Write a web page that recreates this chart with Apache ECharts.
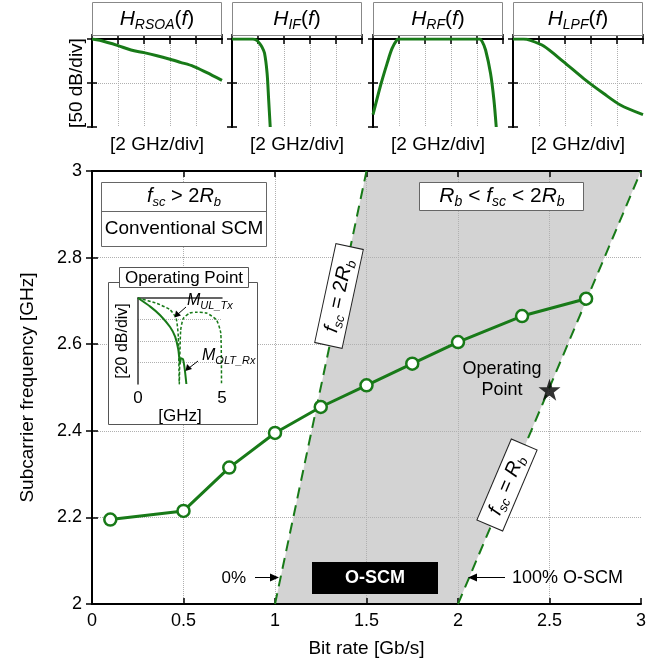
<!DOCTYPE html>
<html><head><meta charset="utf-8">
<script src="https://cdn.jsdelivr.net/npm/echarts@6/dist/echarts.min.js"></script>
<style>html,body{margin:0;padding:0;background:#fff}#c{width:671px;height:667px}</style>
</head><body><div id="c"></div>
<script>
// ---------- data ----------
const xTickLabels = ['0', '0.5', '1', '1.5', '2', '2.5', '3'];
const yTickLabels = ['2', '2.2', '2.4', '2.6', '2.8', '3'];
const bitRate = [0.1, 0.5, 0.75, 1.0, 1.25, 1.5, 1.75, 2.0, 2.35, 2.7];
const subcarrierFreq = [2.195, 2.215, 2.315, 2.395, 2.455, 2.505, 2.555, 2.605, 2.665, 2.705];
const line2Rb = [[1, 2], [1.5, 3]];   // fsc = 2Rb
const lineRb = [[2, 2], [3, 3]];      // fsc = Rb
const operatingPoint = [[2.5, 2.495]];

const panelTitles = [
  '{i|H}{s|RSOA}{n|(}{i|f}{n|)}',
  '{i|H}{s|IF}{n|(}{i|f}{n|)}',
  '{i|H}{s|RF}{n|(}{i|f}{n|)}',
  '{i|H}{s|LPF}{n|(}{i|f}{n|)}'
];
// [division (2 GHz/div), dB]
const hRsoa = [[0, 0], [0.3, -1.5], [1, -7.5], [1.5, -12.5], [2, -15.5], [2.5, -19], [3, -23], [3.4, -26.5], [3.9, -31], [4.4, -38], [5, -47]];
const hIf = [[0, 0], [0.8, 0], [0.95, -1.5], [1.06, -5], [1.15, -9], [1.25, -16], [1.35, -39], [1.41, -69], [1.47, -100]];
const hRf = [[0, -86], [0.28, -54], [0.54, -28], [0.73, -11], [0.92, -1], [1.0, 0], [4.1, 0], [4.2, -3], [4.33, -12.5], [4.52, -39], [4.65, -69], [4.74, -100]];
const hLpf = [[0, 0], [0.4, 0], [0.67, -1.5], [1.18, -8], [1.95, -26], [2.72, -45], [3.49, -62], [4.13, -75], [5, -86]];
const panelCurves = [hRsoa, hIf, hRf, hLpf];

// inset [GHz, dB]
const insetRx = [[0, 0], [0.73, -8], [1.32, -16], [1.91, -27], [2.21, -36], [2.4, -48], [2.5, -61], [2.56, -56], [2.68, -57], [2.78, -66], [2.88, -80]];
const insetTx = [[0, 0], [1.12, -5], [1.91, -11], [2.27, -19], [2.4, -36], [2.46, -80], [2.5, -80], [2.54, -30], [2.7, -19], [3.09, -14], [3.49, -13.3], [4.08, -14], [4.67, -20.5], [4.93, -33], [4.97, -80]];
const insetXLabels = ['0', '5'];

// ---------- style ----------
const FONT = '"Liberation Sans", Arial, sans-serif';
const GREEN = '#187a18';
const GRID_LINE = { show: true, showMinLine: false, showMaxLine: false, lineStyle: { type: 'dotted', color: '#b0b0b0', width: 1 } };
const AXLINE = { show: true, lineStyle: { color: '#000', width: 2 } };

function rich(fs) {
  const ss = Math.round(fs * 0.66);
  return {
    i: { fontStyle: 'italic', fontSize: fs, fontFamily: FONT, color: '#000', lineHeight: fs + 5 },
    n: { fontSize: fs, fontFamily: FONT, color: '#000', lineHeight: fs + 5 },
    s: { fontStyle: 'italic', fontSize: ss, fontFamily: FONT, color: '#000', verticalAlign: 'bottom', lineHeight: ss + 1 }
  };
}

const chart = echarts.init(document.getElementById('c'), null, { renderer: 'canvas' });

const panelLefts = [92, 232, 373, 513];
const grids = [{ left: 92, top: 171, width: 549, height: 433 }];
panelLefts.forEach(l => grids.push({ left: l, top: 39, width: 130, height: 88 }));
grids.push({ left: 138, top: 298, width: 84, height: 86 });

const xAxes = [], yAxes = [];
// main
xAxes.push({
  type: 'value', gridIndex: 0, min: 0, max: 3, interval: 0.5, z: 3,
  axisLine: AXLINE, axisTick: { inside: true, length: 6, lineStyle: { color: '#000', width: 1.5 } },
  axisLabel: { fontSize: 18, color: '#000', fontFamily: FONT, margin: 8, formatter: (v, i) => xTickLabels[i] },
  splitLine: GRID_LINE,
  name: 'Bit rate [Gb/s]', nameLocation: 'middle', nameGap: 35,
  nameTextStyle: { fontSize: 19, color: '#000', fontFamily: FONT }
});
xAxes.push({
  type: 'value', gridIndex: 0, min: 0, max: 3, interval: 0.5, position: 'top', z: 3,
  axisLine: AXLINE, axisTick: { inside: true, length: 6, lineStyle: { color: '#000', width: 1.5 } },
  axisLabel: { show: false }, splitLine: { show: false }
});
yAxes.push({
  type: 'value', gridIndex: 0, min: 2, max: 3, interval: 0.2, z: 3,
  axisLine: AXLINE, axisTick: { inside: true, length: 6, lineStyle: { color: '#000', width: 1.5 } },
  axisLabel: { fontSize: 18, color: '#000', fontFamily: FONT, margin: 10, formatter: (v, i) => yTickLabels[i] },
  splitLine: GRID_LINE,
  name: 'Subcarrier frequency [GHz]', nameLocation: 'middle', nameGap: 55,
  nameTextStyle: { fontSize: 19, color: '#000', fontFamily: FONT }
});
yAxes.push({
  type: 'value', gridIndex: 0, min: 2, max: 3, interval: 0.2, position: 'right', z: 3,
  axisLine: AXLINE, axisTick: { inside: true, length: 6, lineStyle: { color: '#000', width: 1.5 } },
  axisLabel: { show: false }, splitLine: { show: false }
});
// panels
for (let p = 0; p < 4; p++) {
  xAxes.push({
    type: 'value', gridIndex: p + 1, min: 0, max: 5, interval: 1,
    axisLine: AXLINE, axisTick: { inside: true, length: 5, lineStyle: { color: '#000', width: 1.5 } },
    axisLabel: { show: false }, splitLine: GRID_LINE,
    name: '[2 GHz/div]', nameLocation: 'middle', nameGap: 8,
    nameTextStyle: { fontSize: 19, color: '#000', fontFamily: FONT, verticalAlign: 'top' }
  });
}
for (let p = 0; p < 4; p++) {
  xAxes.push({
    type: 'value', gridIndex: p + 1, min: 0, max: 5, interval: 1, position: 'top',
    axisLine: AXLINE, axisTick: { inside: true, length: 5, lineStyle: { color: '#000', width: 1.5 } },
    axisLabel: { show: false }, splitLine: { show: false }
  });
}
for (let p = 0; p < 4; p++) {
  const ax = {
    type: 'value', gridIndex: p + 1, min: -100, max: 0, interval: 50,
    axisLine: AXLINE, axisTick: { inside: true, length: 5, lineStyle: { color: '#000', width: 1.5 } },
    axisLabel: { show: false }, splitLine: GRID_LINE
  };
  if (p === 0) {
    ax.name = '[50 dB/div]'; ax.nameLocation = 'middle'; ax.nameGap = 6;
    ax.nameTextStyle = { fontSize: 19, color: '#000', fontFamily: FONT };
  }
  yAxes.push(ax);
}
for (let p = 0; p < 4; p++) {
  yAxes.push({
    type: 'value', gridIndex: p + 1, min: -100, max: 0, interval: 50, position: 'right',
    axisLine: AXLINE, axisTick: { inside: true, length: 5, lineStyle: { color: '#000', width: 1.5 } },
    axisLabel: { show: false }, splitLine: { show: false }
  });
}
// inset
xAxes.push({
  type: 'value', gridIndex: 5, min: 0, max: 5, interval: 5, z: 20,
  axisLine: { show: true, lineStyle: { color: '#333', width: 1.5 } }, axisTick: { show: false },
  axisLabel: { fontSize: 17, color: '#000', fontFamily: FONT, margin: 6, formatter: (v, i) => insetXLabels[i] },
  splitLine: { show: false },
  name: '[GHz]', nameLocation: 'middle', nameGap: 21,
  nameTextStyle: { fontSize: 17, color: '#000', fontFamily: FONT, verticalAlign: 'top' }
});
yAxes.push({
  type: 'value', gridIndex: 5, min: -80, max: 0, interval: 20, z: 20,
  axisLine: { show: true, lineStyle: { color: '#333', width: 1.5 } }, axisTick: { show: false },
  axisLabel: { show: false }, splitLine: GRID_LINE,
  name: '[20 dB/div]', nameLocation: 'middle', nameGap: 7,
  nameTextStyle: { fontSize: 16, color: '#000', fontFamily: FONT }
});

const series = [];
// shaded O-SCM region built from the two boundary lines
const shadePoly = [lineRb[0], lineRb[1], line2Rb[1], line2Rb[0]];
series.push({
  type: 'custom', xAxisIndex: 0, yAxisIndex: 0, z: 1, silent: true,
  data: [[0, 0]],
  renderItem: (params, api) => ({
    type: 'polygon',
    shape: { points: shadePoly.map(p => api.coord(p)) },
    style: { fill: '#d3d3d3' }
  })
});
[line2Rb, lineRb].forEach(d => series.push({
  type: 'line', xAxisIndex: 0, yAxisIndex: 0, z: 4, data: d, symbol: 'none',
  lineStyle: { color: GREEN, width: 2, type: [11, 7] }
}));
series.push({
  type: 'line', xAxisIndex: 0, yAxisIndex: 0, z: 5,
  data: bitRate.map((x, i) => [x, subcarrierFreq[i]]),
  symbol: 'circle', symbolSize: 12,
  itemStyle: { color: '#fff', borderColor: GREEN, borderWidth: 2.5 },
  lineStyle: { color: GREEN, width: 3 }
});
series.push({
  type: 'scatter', xAxisIndex: 0, yAxisIndex: 0, z: 6, data: operatingPoint,
  symbol: 'path://M50,0 L61.8,35.1 L98.1,35.1 L68.8,56.8 L79.4,91 L50,70 L20.6,91 L31.2,56.8 L1.9,35.1 L38.2,35.1 Z',
  symbolSize: 22, itemStyle: { color: '#000' }
});
panelCurves.forEach((d, p) => series.push({
  type: 'line', xAxisIndex: p + 2, yAxisIndex: p + 2, data: d, symbol: 'none', smooth: 0.3,
  lineStyle: { color: GREEN, width: 3 }
}));
series.push({
  type: 'line', xAxisIndex: 10, yAxisIndex: 10, z: 21, data: insetTx, symbol: 'none', smooth: 0.2,
  lineStyle: { color: GREEN, width: 1.5, type: [3, 2] }
});
series.push({
  type: 'line', xAxisIndex: 10, yAxisIndex: 10, z: 21, data: insetRx, symbol: 'none', smooth: 0.2,
  lineStyle: { color: GREEN, width: 2 }
});

// ---------- annotations ----------
const graphic = [];
const Z = 10;
panelLefts.forEach((l, p) => {
  graphic.push({ type: 'rect', z: Z, shape: { x: l + 0.5, y: 2.5, width: 129, height: 33 }, style: { fill: '#fff', stroke: '#888', lineWidth: 1 } });
  graphic.push({ type: 'text', z: Z + 1, x: l + 65, y: 19, style: { text: panelTitles[p], rich: rich(21), align: 'center', verticalAlign: 'middle' } });
});
// fsc > 2Rb box
graphic.push({ type: 'rect', z: Z, shape: { x: 101.5, y: 182.5, width: 165, height: 64 }, style: { fill: '#fff', stroke: '#666', lineWidth: 1 } });
graphic.push({ type: 'line', z: Z, shape: { x1: 101.5, y1: 211.5, x2: 266.5, y2: 211.5 }, style: { stroke: '#666', lineWidth: 1 } });
graphic.push({ type: 'text', z: Z + 1, x: 184, y: 196, style: { text: '{i|f}{s|sc}{n| > 2}{i|R}{s|b}', rich: rich(20), align: 'center', verticalAlign: 'middle' } });
graphic.push({ type: 'text', z: Z + 1, x: 184, y: 229, style: { text: 'Conventional SCM', fontSize: 19, fontFamily: FONT, fill: '#000', align: 'center', verticalAlign: 'middle' } });
// Rb < fsc < 2Rb box
graphic.push({ type: 'rect', z: Z, shape: { x: 419.5, y: 182.5, width: 164, height: 28 }, style: { fill: '#fff', stroke: '#666', lineWidth: 1 } });
graphic.push({ type: 'text', z: Z + 1, x: 502, y: 196, style: { text: '{i|R}{s|b}{n| < }{i|f}{s|sc}{n| < 2}{i|R}{s|b}', rich: rich(21), align: 'center', verticalAlign: 'middle' } });
// rotated boundary labels
graphic.push({ type: 'text', z: Z + 1, x: 339, y: 296, rotation: Math.atan2(433, 93), style: { text: '{i|f}{s|sc}{n| = 2}{i|R}{s|b}', rich: rich(20), align: 'center', verticalAlign: 'middle', backgroundColor: '#fff', borderColor: '#222', borderWidth: 1, padding: [1, 13, 1, 13] } });
graphic.push({ type: 'text', z: Z + 1, x: 507, y: 485, rotation: Math.atan2(433, 184), style: { text: '{i|f}{s|sc}{n| = }{i|R}{s|b}', rich: rich(20), align: 'center', verticalAlign: 'middle', backgroundColor: '#fff', borderColor: '#222', borderWidth: 1, padding: [1, 12, 1, 12] } });
// Operating Point text
graphic.push({ type: 'text', z: Z + 1, x: 502, y: 380, style: { text: 'Operating\nPoint', fontSize: 18, lineHeight: 21, fontFamily: FONT, fill: '#000', align: 'center', verticalAlign: 'middle' } });
// O-SCM
graphic.push({ type: 'rect', z: Z, shape: { x: 312, y: 562, width: 126, height: 32 }, style: { fill: '#000' } });
graphic.push({ type: 'text', z: Z + 1, x: 375, y: 578, style: { text: 'O-SCM', fontSize: 18, fontWeight: 'bold', fontFamily: FONT, fill: '#fff', align: 'center', verticalAlign: 'middle' } });
// 0% arrow
graphic.push({ type: 'text', z: Z + 1, x: 246, y: 578, style: { text: '0%', fontSize: 17, fontFamily: FONT, fill: '#000', align: 'right', verticalAlign: 'middle' } });
graphic.push({ type: 'line', z: Z, shape: { x1: 255, y1: 577.5, x2: 272, y2: 577.5 }, style: { stroke: '#000', lineWidth: 1 } });
graphic.push({ type: 'polygon', z: Z, shape: { points: [[279, 577.5], [270, 573.5], [270, 581.5]] }, style: { fill: '#000' } });
// 100% arrow
graphic.push({ type: 'text', z: Z + 1, x: 512, y: 578, style: { text: '100% O-SCM', fontSize: 18, fontFamily: FONT, fill: '#000', align: 'left', verticalAlign: 'middle' } });
graphic.push({ type: 'line', z: Z, shape: { x1: 505, y1: 577.5, x2: 475, y2: 577.5 }, style: { stroke: '#000', lineWidth: 1 } });
graphic.push({ type: 'polygon', z: Z, shape: { points: [[468, 577.5], [477, 573.5], [477, 581.5]] }, style: { fill: '#000' } });
// inset frame
graphic.push({ type: 'rect', z: Z, shape: { x: 108.5, y: 282.5, width: 149, height: 142 }, style: { fill: '#fff', stroke: '#555', lineWidth: 1 } });
graphic.push({ type: 'rect', z: Z + 1, shape: { x: 119.5, y: 267.5, width: 129, height: 20 }, style: { fill: '#fff', stroke: '#555', lineWidth: 1 } });
graphic.push({ type: 'text', z: Z + 2, x: 184, y: 278, style: { text: 'Operating Point', fontSize: 17, fontFamily: FONT, fill: '#000', align: 'center', verticalAlign: 'middle' } });
// inset labels + arrows
graphic.push({ type: 'text', z: 30, x: 187, y: 301, style: { text: '{i|M}{s|UL_Tx}', rich: rich(16), align: 'left', verticalAlign: 'middle' } });
graphic.push({ type: 'line', z: 30, shape: { x1: 186, y1: 307, x2: 178, y2: 314 }, style: { stroke: '#000', lineWidth: 1 } });
graphic.push({ type: 'polygon', z: 30, shape: { points: [[174.5, 317.5], [176, 310.5], [181, 315.5]] }, style: { fill: '#000' } });
graphic.push({ type: 'text', z: 30, x: 202, y: 356, style: { text: '{i|M}{s|OLT_Rx}', rich: rich(16), align: 'left', verticalAlign: 'middle' } });
graphic.push({ type: 'line', z: 30, shape: { x1: 198, y1: 361, x2: 189, y2: 368 }, style: { stroke: '#000', lineWidth: 1 } });
graphic.push({ type: 'polygon', z: 30, shape: { points: [[185.5, 371], [187, 364], [192, 369]] }, style: { fill: '#000' } });

chart.setOption({
  animation: false,
  backgroundColor: '#fff',
  textStyle: { fontFamily: FONT },
  grid: grids,
  xAxis: xAxes,
  yAxis: yAxes,
  series: series,
  graphic: graphic
});
</script>
</body></html>
